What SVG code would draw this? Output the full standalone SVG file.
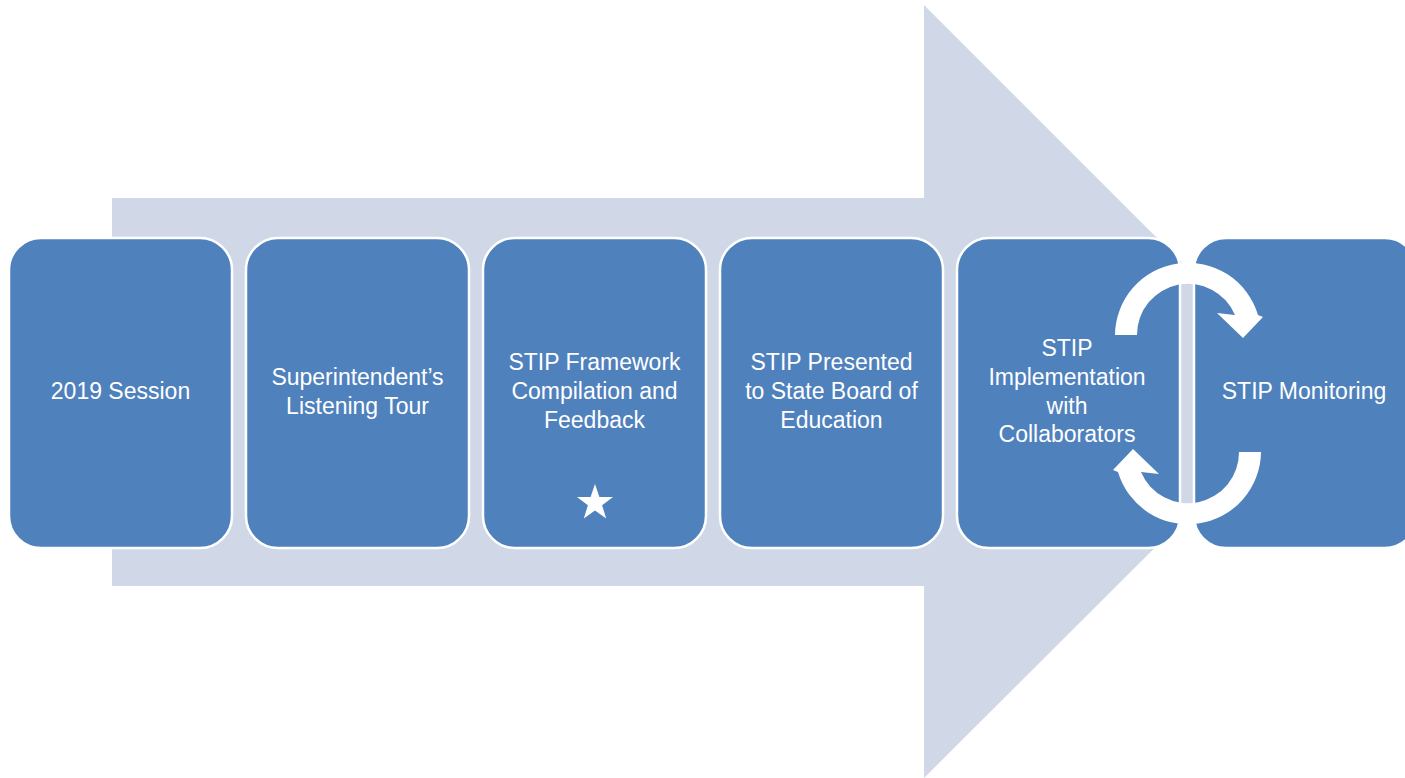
<svg xmlns="http://www.w3.org/2000/svg" width="1405" height="778" viewBox="0 0 1405 778">
<style>
.box{fill:#4F81BD;stroke:#FFFFFF;stroke-width:2.5}
.lbl{fill:#FFFFFF;font-family:"Liberation Sans",Arial,sans-serif;font-size:23px;text-anchor:middle}
.cyc{fill:#FFFFFF}
</style>
<defs>
<path id="circ" d="M1115 335 A73 73 0 0 1 1258 315 L1263 317 L1243 338 L1217 313 L1235 315 A51 51 0 0 0 1137 335 Z"/>
</defs>
<rect width="1405" height="778" fill="#FFFFFF"/>
<g id="background-arrow">
<polygon points="112,198 924,198 924,5 1311,392 924,778 924,586 112,586" fill="#D0D8E8"/>
</g>
<g id="n1"><rect class="box" x="9" y="238" width="223" height="310" rx="32"/><text class="lbl" x="120.5" y="399">2019 Session</text></g>
<g id="n2"><rect class="box" x="246" y="238" width="223" height="310" rx="32"/><text class="lbl" x="357.5" y="385">Superintendent’s</text><text class="lbl" x="357.5" y="414">Listening Tour</text></g>
<g id="n3"><rect class="box" x="483" y="238" width="223" height="310" rx="32"/><text class="lbl" x="594.5" y="370">STIP Framework</text><text class="lbl" x="594.5" y="399">Compilation and</text><text class="lbl" x="594.5" y="428">Feedback</text>
<polygon fill="#FFFFFF" points="595,484 599.4,496.9 613,497.1 602.1,505.3 606.2,518.4 595,510.5 583.8,518.4 587.9,505.3 577,497.1 590.6,496.9"/></g>
<g id="n4"><rect class="box" x="720" y="238" width="223" height="310" rx="32"/><text class="lbl" x="831.5" y="370">STIP Presented</text><text class="lbl" x="831.5" y="399">to State Board of</text><text class="lbl" x="831.5" y="428">Education</text></g>
<g id="n5"><rect class="box" x="957" y="238" width="223" height="310" rx="32"/><text class="lbl" x="1067" y="356">STIP</text><text class="lbl" x="1067" y="385">Implementation</text><text class="lbl" x="1067" y="414">with</text><text class="lbl" x="1067" y="442">Collaborators</text></g>
<g id="n6"><rect class="box" x="1194" y="238" width="223" height="310" rx="32"/><text class="lbl" x="1304" y="399">STIP Monitoring</text></g>
<g id="connectors">
<use href="#circ" class="cyc"/>
<use href="#circ" class="cyc" transform="rotate(180 1188 393.5)"/>
</g>
</svg>
